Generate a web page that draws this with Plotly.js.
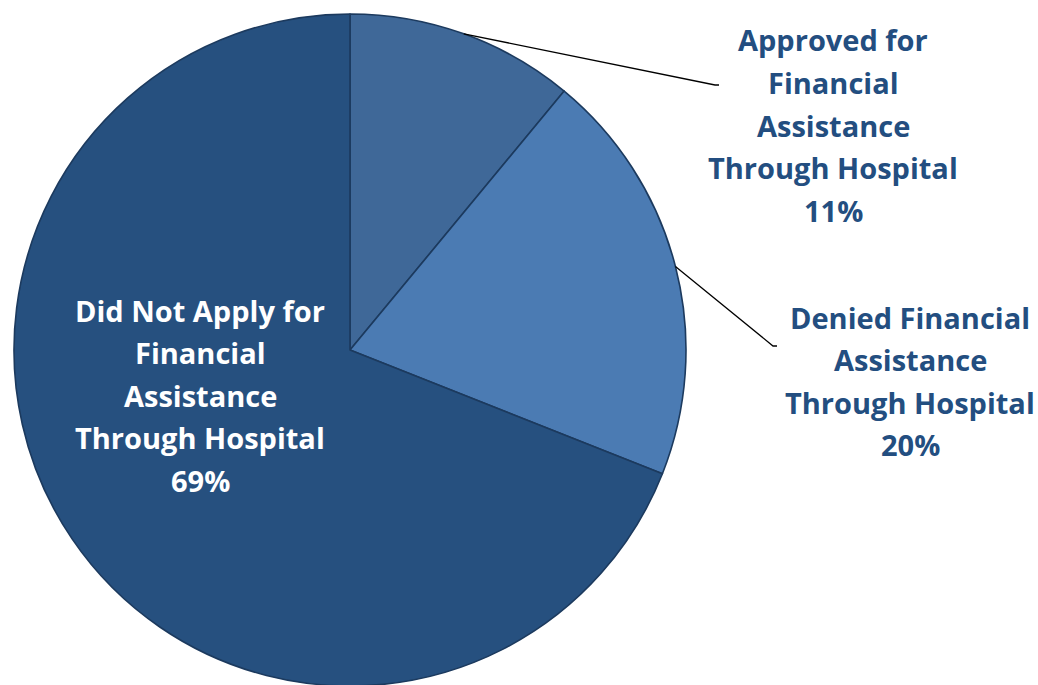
<!DOCTYPE html>
<html><head><meta charset="utf-8">
<script src="https://cdn.plot.ly/plotly-3.0.1.min.js"></script>
<style>html,body{margin:0;padding:0;overflow:hidden;background:#fff}</style>
</head><body><div id="chart" style="width:1038px;height:688px"></div>
<script>
const categories = ["Approved for<br>Financial<br>Assistance<br>Through Hospital",
                    "Denied Financial<br>Assistance<br>Through Hospital",
                    "Did Not Apply for<br>Financial<br>Assistance<br>Through Hospital"];
const values = [11, 20, 69];
const colors = ["#3F6898", "#4B7BB3", "#26507F"];

const W = 1038, H = 688;
const cx = 350, cy = 350, R = 336;
// label block centres (px) and elbow points for leader lines
const labelPos = [{x: 833, y: 125, elbow: [715, 85], end: 719},
                  {x: 910, y: 381, elbow: [773, 346], end: 777},
                  {x: 200, y: 395}];
const lineGap = 42.5;
const px = x => x / W, py = y => 1 - y / H;

const total = values.reduce((a, b) => a + b, 0);
const annotations = [], shapes = [];
let cum = 0;
values.forEach((v, i) => {
  const mid = (cum + v / 2) / total * 2 * Math.PI;
  cum += v;
  const lines = categories[i].split("<br>").concat([v + "%"]);
  const lp = labelPos[i];
  const inside = !lp.elbow;
  lines.forEach((t, k) => {
    annotations.push({
      xref: "paper", yref: "paper", x: px(lp.x), y: py(lp.y + (k - (lines.length - 1) / 2) * lineGap),
      text: t, showarrow: false, xanchor: "center", yanchor: "middle",
      font: {family: "'Open Sans', Lato, sans-serif", size: 29, color: inside ? "#ffffff" : "#234E80", weight: "bold"}
    });
  });
  if (!inside) {
    const tx = cx + R * Math.sin(mid), ty = cy - R * Math.cos(mid);
    shapes.push({type: "path", xref: "paper", yref: "paper",
      path: `M ${px(tx)} ${py(ty)} L ${px(lp.elbow[0])} ${py(lp.elbow[1])} L ${px(lp.end)} ${py(lp.elbow[1])}`,
      line: {color: "#000000", width: 1.3}});
  }
});

const trace = {
  type: "pie", values: values, labels: categories, sort: false, direction: "clockwise", rotation: 0,
  textinfo: "none", hoverinfo: "label+percent",
  marker: {colors: colors, line: {color: "#1C3A5E", width: 1.6}},
  domain: {x: [(cx - R) / W, (cx + R) / W], y: [py(cy + R), py(cy - R)]},
  showlegend: false
};
Plotly.newPlot("chart", [trace], {
  width: W, height: H, margin: {l: 0, r: 0, t: 0, b: 0},
  paper_bgcolor: "#ffffff", showlegend: false,
  annotations: annotations, shapes: shapes
}, {displayModeBar: false});
</script></body></html>
